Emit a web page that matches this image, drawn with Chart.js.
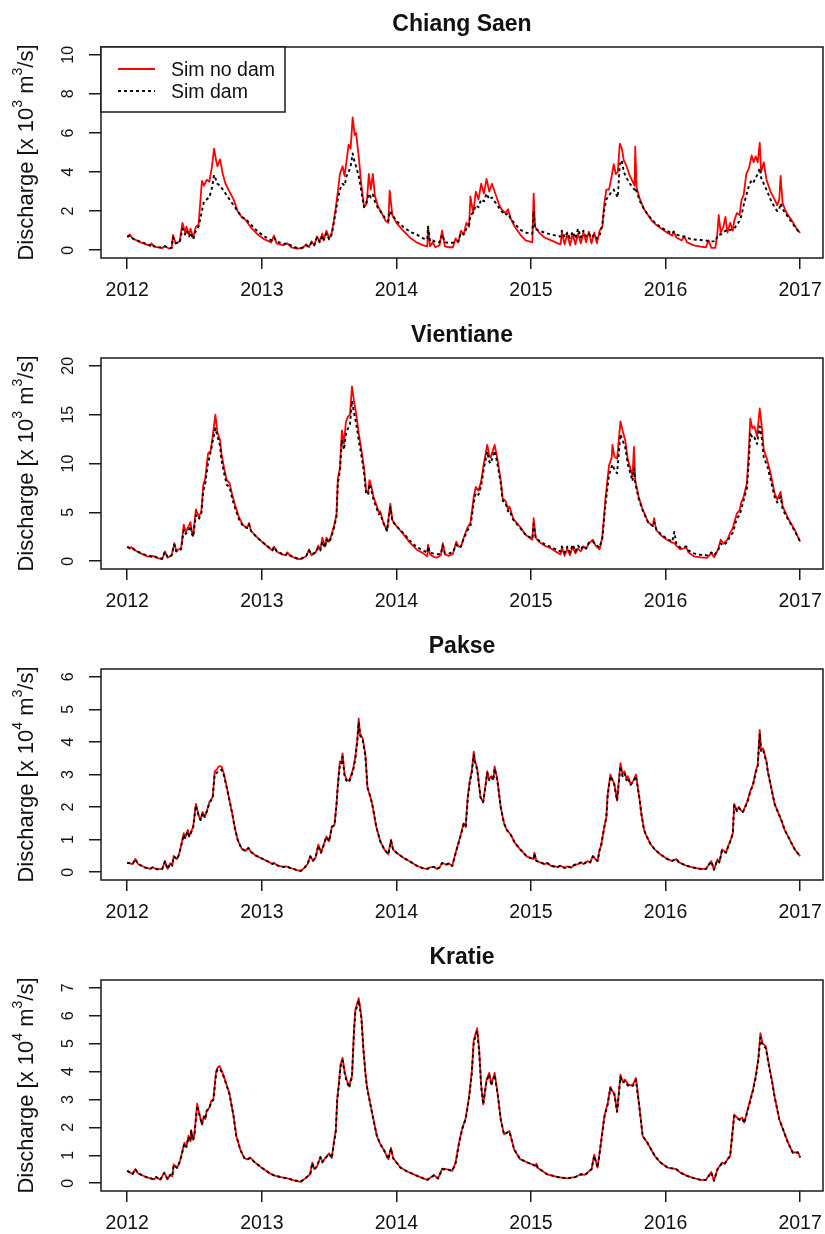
<!DOCTYPE html>
<html>
<head>
<meta charset="utf-8">
<script src="https://cdn.jsdelivr.net/npm/chart.js@4.4.1/dist/chart.umd.min.js"></script>
<style>
  html, body { margin: 0; padding: 0; background: #fff; overflow: hidden; }
  #wrap { position: relative; width: 825px; height: 1234px; }
  #wrap canvas { position: absolute; left: 0; }
</style>
</head>
<body>
<div id="wrap">
  <canvas id="p0" width="825" height="311" style="top:0px"></canvas>
  <canvas id="p1" width="825" height="311" style="top:311px"></canvas>
  <canvas id="p2" width="825" height="311" style="top:622px"></canvas>
  <canvas id="p3" width="825" height="311" style="top:933px"></canvas>
</div>
<script>
// ---- station names, axis ticks ----
const stationNames = ['Chiang Saen', 'Vientiane', 'Pakse', 'Kratie'];
const seriesNames = ['Sim no dam', 'Sim dam'];
const yearTicks = [2012, 2013, 2014, 2015, 2016, 2017];
const csTicks = [0, 2, 4, 6, 8, 10];
const vtTicks = [0, 5, 10, 15, 20];
const pkTicks = [0, 1, 2, 3, 4, 5, 6];
const krTicks = [0, 1, 2, 3, 4, 5, 6, 7];
const unitExponents = ['3', '3', '4', '4'];

// ---- Chiang Saen discharge (x 10^3 m3/s) ----
const csTime = [
  2012.00,2012.02,2012.04,2012.10,2012.17,2012.18,2012.20,2012.26,2012.28,2012.31,
  2012.33,2012.34,2012.36,2012.39,2012.41,2012.43,2012.44,2012.46,2012.47,2012.49,
  2012.51,2012.53,2012.555,2012.57,2012.59,2012.61,2012.63,2012.645,2012.66,2012.67,
  2012.69,2012.71,2012.73,2012.76,2012.79,2012.82,2012.85,2012.88,2012.92,2012.97,
  2013.02,2013.07,2013.09,2013.11,2013.16,2013.19,2013.22,2013.26,2013.30,2013.33,
  2013.35,2013.37,2013.39,2013.41,2013.43,2013.45,2013.46,2013.48,2013.50,2013.52,
  2013.535,2013.55,2013.565,2013.58,2013.60,2013.615,2013.63,2013.645,2013.66,2013.675,
  2013.69,2013.70,2013.72,2013.74,2013.76,2013.78,2013.795,2013.81,2013.825,2013.84,
  2013.86,2013.89,2013.92,2013.94,2013.95,2013.97,2014.00,2014.05,2014.10,2014.15,
  2014.20,2014.23,2014.235,2014.25,2014.27,2014.29,2014.32,2014.34,2014.36,2014.39,
  2014.42,2014.44,2014.46,2014.48,2014.50,2014.52,2014.54,2014.55,2014.57,2014.59,
  2014.61,2014.63,2014.65,2014.67,2014.69,2014.71,2014.73,2014.76,2014.78,2014.81,
  2014.83,2014.85,2014.88,2014.92,2014.96,2015.01,2015.02,2015.03,2015.06,2015.10,
  2015.15,2015.20,2015.22,2015.23,2015.25,2015.27,2015.29,2015.31,2015.33,2015.35,
  2015.37,2015.39,2015.41,2015.43,2015.45,2015.47,2015.49,2015.51,2015.53,2015.545,
  2015.56,2015.58,2015.60,2015.615,2015.63,2015.645,2015.66,2015.675,2015.69,2015.71,
  2015.735,2015.77,2015.775,2015.785,2015.81,2015.84,2015.87,2015.90,2015.93,2015.97,
  2016.01,2016.05,2016.06,2016.08,2016.12,2016.14,2016.16,2016.21,2016.26,2016.30,
  2016.32,2016.34,2016.37,2016.385,2016.395,2016.41,2016.43,2016.445,2016.46,2016.48,
  2016.50,2016.51,2016.53,2016.55,2016.565,2016.58,2016.60,2016.62,2016.64,2016.655,
  2016.67,2016.685,2016.70,2016.71,2016.73,2016.75,2016.78,2016.81,2016.83,2016.845,
  2016.855,2016.87,2016.90,2016.94,2016.97,2017.00
];
const csNoDam = [
  0.70,0.80,0.60,0.40,0.22,0.35,0.18,0.10,0.22,0.08,
  0.10,0.78,0.35,0.45,1.40,0.90,1.20,0.80,1.10,0.65,
  1.20,1.30,3.55,3.30,3.60,3.50,4.30,5.20,4.60,4.30,
  4.65,3.90,3.40,3.00,2.60,2.00,1.70,1.55,1.15,0.80,
  0.55,0.40,0.75,0.35,0.25,0.35,0.15,0.08,0.10,0.30,
  0.15,0.45,0.25,0.70,0.45,0.85,0.50,1.00,0.60,0.90,
  1.50,2.20,3.00,3.90,4.30,3.80,4.60,5.40,5.20,6.80,
  5.90,6.00,4.80,3.30,2.20,2.40,3.90,3.10,3.90,2.80,
  2.30,1.90,1.50,1.40,3.05,1.80,1.40,1.00,0.65,0.40,
  0.25,0.20,1.20,0.20,0.40,0.15,0.25,1.00,0.20,0.15,
  0.15,0.60,0.40,1.00,0.80,1.40,1.20,2.75,1.90,3.00,
  2.60,3.40,2.90,3.65,3.00,3.40,3.00,2.40,2.10,1.90,
  2.10,1.60,1.20,0.80,0.50,0.40,2.90,1.20,0.90,0.65,
  0.50,0.35,0.30,0.90,0.30,0.85,0.25,0.80,0.30,0.85,
  0.35,0.90,0.40,0.95,0.35,0.90,0.35,1.00,1.20,2.40,
  3.10,3.10,3.80,4.40,3.90,4.00,5.45,5.20,4.60,4.30,
  3.80,3.30,5.30,3.20,2.60,2.10,1.80,1.50,1.30,1.10,
  0.90,0.75,0.95,0.65,0.50,0.70,0.40,0.25,0.18,0.15,
  0.50,0.12,0.12,0.85,1.80,0.90,1.20,1.70,0.90,1.40,
  1.00,1.50,1.90,1.80,2.60,2.80,3.90,4.20,4.85,4.50,
  4.80,4.50,5.50,4.00,4.50,3.60,3.00,2.60,2.30,2.60,
  3.80,2.40,1.90,1.50,1.15,0.88
];
const csDam = [
  0.68,0.75,0.60,0.42,0.25,0.33,0.20,0.12,0.20,0.10,
  0.12,0.65,0.35,0.40,1.10,0.80,1.00,0.70,0.90,0.55,
  1.00,1.20,2.00,2.50,2.60,2.70,3.20,3.85,3.60,3.40,
  3.30,3.10,2.90,2.60,2.30,2.00,1.70,1.60,1.30,0.95,
  0.70,0.50,0.65,0.45,0.32,0.35,0.22,0.12,0.12,0.25,
  0.18,0.40,0.25,0.65,0.40,0.75,0.55,0.85,0.55,0.80,
  1.40,2.00,2.60,3.10,3.40,3.30,3.80,4.00,4.30,4.95,
  4.50,4.30,3.80,3.00,2.20,2.50,2.90,2.70,2.85,2.50,
  2.20,1.90,1.60,1.50,2.00,1.80,1.50,1.20,0.95,0.80,
  0.60,0.55,1.20,0.45,0.50,0.42,0.40,0.80,0.40,0.38,
  0.38,0.45,0.45,0.90,0.80,1.10,1.30,1.80,1.90,2.30,
  2.20,2.60,2.50,2.90,2.60,2.70,2.50,2.20,2.00,1.80,
  1.90,1.60,1.35,1.05,0.90,0.85,2.00,1.10,1.00,0.90,
  0.80,0.72,0.70,1.00,0.65,0.90,0.62,0.95,0.60,1.10,
  0.65,1.00,0.70,0.85,0.65,0.80,0.60,0.75,1.30,2.10,
  2.60,2.80,3.00,3.10,2.90,2.70,4.40,4.60,4.00,3.70,
  3.40,3.10,3.20,3.00,2.50,2.10,1.80,1.55,1.35,1.15,
  1.00,0.85,0.95,0.80,0.70,0.70,0.62,0.55,0.52,0.50,
  0.45,0.45,0.45,0.70,0.80,0.80,0.90,1.00,0.95,1.05,
  1.05,1.10,1.30,1.50,1.80,2.30,2.80,3.30,3.60,3.50,
  3.70,3.90,4.20,3.70,3.40,3.10,2.60,2.20,2.00,2.10,
  2.40,2.10,1.80,1.40,1.10,0.88
];

// ---- Vientiane discharge (x 10^3 m3/s) ----
const vtTime = [
  2012.00,2012.02,2012.03,2012.06,2012.10,2012.15,2012.18,2012.19,2012.22,2012.26,
  2012.28,2012.30,2012.33,2012.35,2012.365,2012.38,2012.40,2012.42,2012.435,2012.45,
  2012.47,2012.48,2012.49,2012.51,2012.53,2012.55,2012.565,2012.58,2012.60,2012.62,
  2012.635,2012.655,2012.67,2012.69,2012.70,2012.72,2012.74,2012.76,2012.78,2012.80,
  2012.83,2012.86,2012.89,2012.905,2012.92,2012.96,2013.00,2013.05,2013.08,2013.09,
  2013.11,2013.15,2013.18,2013.19,2013.21,2013.26,2013.29,2013.33,2013.35,2013.37,
  2013.40,2013.42,2013.435,2013.45,2013.47,2013.48,2013.50,2013.52,2013.54,2013.555,
  2013.565,2013.58,2013.595,2013.61,2013.625,2013.64,2013.655,2013.67,2013.685,2013.70,
  2013.72,2013.74,2013.76,2013.775,2013.79,2013.80,2013.815,2013.83,2013.85,2013.87,
  2013.88,2013.90,2013.93,2013.955,2013.97,2014.00,2014.05,2014.10,2014.15,2014.20,
  2014.23,2014.235,2014.25,2014.27,2014.30,2014.33,2014.345,2014.36,2014.39,2014.42,
  2014.445,2014.46,2014.48,2014.50,2014.53,2014.55,2014.575,2014.59,2014.61,2014.63,
  2014.65,2014.675,2014.69,2014.70,2014.73,2014.75,2014.775,2014.79,2014.81,2014.83,
  2014.84,2014.87,2014.92,2014.96,2015.01,2015.02,2015.035,2015.06,2015.10,2015.15,
  2015.20,2015.22,2015.23,2015.25,2015.27,2015.29,2015.31,2015.33,2015.35,2015.37,
  2015.39,2015.41,2015.43,2015.46,2015.48,2015.51,2015.53,2015.555,2015.58,2015.60,
  2015.605,2015.62,2015.64,2015.665,2015.68,2015.70,2015.72,2015.755,2015.765,2015.775,
  2015.80,2015.83,2015.87,2015.905,2015.915,2015.93,2015.97,2016.01,2016.05,2016.065,
  2016.08,2016.11,2016.155,2016.17,2016.21,2016.26,2016.31,2016.34,2016.36,2016.39,
  2016.41,2016.43,2016.46,2016.48,2016.50,2016.51,2016.53,2016.55,2016.56,2016.58,
  2016.605,2016.62,2016.63,2016.645,2016.66,2016.68,2016.70,2016.715,2016.73,2016.755,
  2016.78,2016.81,2016.83,2016.855,2016.87,2016.91,2016.96,2017.00
];
const vtNoDam = [
  1.50,1.30,1.45,1.10,0.80,0.50,0.45,0.55,0.35,0.20,
  1.00,0.35,0.60,1.85,1.00,1.20,1.30,3.75,3.00,3.40,
  4.00,3.00,2.60,5.30,4.60,5.00,7.80,8.50,11.00,11.30,
  12.80,15.00,13.20,12.40,11.00,9.50,8.30,8.00,6.80,5.80,
  4.50,3.70,3.40,3.90,3.10,2.50,2.00,1.40,1.10,1.50,
  1.00,0.70,0.60,0.90,0.55,0.25,0.20,0.50,1.20,0.60,
  0.90,1.60,1.20,2.40,1.50,2.40,2.00,2.80,3.80,4.80,
  8.50,9.50,13.40,12.00,14.30,14.80,15.00,17.90,16.40,15.20,
  13.10,11.40,9.50,7.20,7.00,8.30,7.60,6.60,5.80,5.00,
  5.10,4.10,3.10,5.90,4.20,3.60,2.80,1.90,1.20,0.80,
  0.50,1.70,0.70,0.50,0.35,0.60,1.85,0.70,0.55,0.75,
  2.00,1.50,1.50,2.40,3.50,3.90,6.60,7.60,7.20,8.20,
  10.00,11.90,10.80,10.60,11.90,10.50,8.30,6.40,6.20,5.30,
  5.60,4.30,3.50,2.70,2.20,4.40,2.40,2.00,1.60,1.30,
  0.85,0.70,1.40,0.55,1.30,0.60,1.50,0.80,1.30,1.00,
  1.50,1.30,1.80,2.20,1.60,1.20,2.50,6.60,9.80,10.60,
  11.90,10.70,10.50,14.30,13.40,12.40,10.40,8.70,11.70,8.30,
  6.60,5.30,4.00,3.60,4.40,3.20,2.60,2.20,1.90,1.85,
  1.60,1.20,1.40,0.90,0.50,0.40,0.35,0.85,0.40,1.20,
  2.20,1.80,2.20,2.90,3.40,3.90,4.90,5.20,5.90,6.60,
  8.00,11.70,14.60,13.60,13.80,12.80,15.65,13.80,11.40,10.40,
  9.00,7.00,6.30,7.10,5.60,4.40,3.20,2.00
];
const vtDam = [
  1.45,1.35,1.40,1.10,0.85,0.55,0.50,0.55,0.40,0.25,
  0.95,0.40,0.60,1.70,1.00,1.10,1.20,3.20,2.80,3.00,
  3.60,2.80,2.50,4.70,4.30,4.80,7.20,8.00,10.00,11.20,
  12.30,13.60,12.80,11.80,10.40,9.00,7.80,7.60,6.40,5.50,
  4.30,3.60,3.40,3.80,3.10,2.50,2.00,1.45,1.15,1.45,
  1.05,0.75,0.65,0.85,0.60,0.30,0.25,0.55,1.10,0.70,
  0.90,1.40,1.10,2.00,1.40,2.20,1.90,2.60,3.60,4.60,
  8.00,9.20,12.40,11.40,13.00,13.60,14.00,16.40,15.20,14.20,
  12.40,10.80,9.00,6.90,6.80,7.90,7.20,6.30,5.50,4.80,
  4.90,4.00,3.10,5.50,4.10,3.60,2.90,2.10,1.45,1.10,
  0.85,1.50,0.90,0.80,0.70,0.75,1.60,0.85,0.80,0.90,
  1.70,1.40,1.50,2.30,3.20,3.50,6.00,7.00,6.80,7.70,
  9.50,11.20,10.20,10.00,11.30,10.00,8.00,6.20,6.00,5.10,
  5.20,4.20,3.40,2.70,2.30,3.80,2.40,2.10,1.75,1.45,
  1.10,1.00,1.50,0.90,1.50,0.90,1.70,1.00,1.60,1.20,
  1.60,1.30,1.90,2.00,1.70,1.40,2.30,6.00,8.80,9.70,
  9.90,9.40,9.00,13.00,12.40,11.70,9.90,8.20,9.50,8.00,
  6.40,5.20,4.00,3.60,4.00,3.30,2.70,2.30,2.00,3.00,
  1.80,1.40,1.50,1.10,0.80,0.65,0.60,0.90,0.60,1.10,
  1.80,1.60,2.00,2.60,2.90,3.40,4.40,4.70,5.20,6.20,
  7.50,10.50,13.20,12.60,12.70,12.00,13.80,12.60,10.60,9.80,
  8.40,6.60,6.00,6.60,5.30,4.30,3.10,2.00
];

// ---- Pakse discharge (x 10^4 m3/s) ----
const pkTime = [
  2012.00,2012.04,2012.06,2012.08,2012.13,2012.17,2012.19,2012.22,2012.26,2012.28,
  2012.30,2012.32,2012.335,2012.345,2012.37,2012.385,2012.40,2012.42,2012.43,2012.45,
  2012.46,2012.475,2012.49,2012.51,2012.53,2012.545,2012.56,2012.575,2012.59,2012.61,
  2012.635,2012.65,2012.665,2012.68,2012.70,2012.72,2012.74,2012.76,2012.78,2012.80,
  2012.82,2012.85,2012.88,2012.90,2012.92,2012.96,2013.00,2013.04,2013.08,2013.09,
  2013.12,2013.16,2013.18,2013.22,2013.26,2013.29,2013.32,2013.34,2013.36,2013.38,
  2013.40,2013.42,2013.44,2013.46,2013.48,2013.50,2013.52,2013.54,2013.555,2013.565,
  2013.58,2013.59,2013.60,2013.615,2013.63,2013.65,2013.665,2013.68,2013.695,2013.71,
  2013.72,2013.73,2013.75,2013.77,2013.785,2013.80,2013.82,2013.85,2013.88,2013.91,
  2013.94,2013.96,2013.975,2014.00,2014.05,2014.10,2014.155,2014.20,2014.23,2014.25,
  2014.28,2014.30,2014.32,2014.34,2014.37,2014.39,2014.415,2014.44,2014.475,2014.50,
  2014.515,2014.53,2014.545,2014.56,2014.575,2014.585,2014.60,2014.625,2014.645,2014.66,
  2014.675,2014.69,2014.705,2014.72,2014.73,2014.75,2014.775,2014.80,2014.82,2014.85,
  2014.88,2014.92,2014.97,2015.02,2015.025,2015.04,2015.10,2015.12,2015.15,2015.20,
  2015.22,2015.25,2015.27,2015.30,2015.32,2015.35,2015.37,2015.39,2015.42,2015.44,
  2015.46,2015.48,2015.495,2015.51,2015.52,2015.545,2015.56,2015.57,2015.59,2015.605,
  2015.62,2015.64,2015.655,2015.665,2015.68,2015.695,2015.71,2015.72,2015.74,2015.76,
  2015.78,2015.805,2015.82,2015.84,2015.86,2015.89,2015.92,2015.96,2016.015,2016.05,
  2016.08,2016.10,2016.16,2016.20,2016.26,2016.30,2016.34,2016.36,2016.385,2016.40,
  2016.42,2016.45,2016.465,2016.48,2016.50,2016.51,2016.53,2016.545,2016.56,2016.575,
  2016.59,2016.61,2016.63,2016.65,2016.67,2016.685,2016.70,2016.71,2016.725,2016.735,
  2016.75,2016.76,2016.78,2016.795,2016.81,2016.83,2016.86,2016.885,2016.91,2016.96,2017.00
];
const pkNoDam = [
  0.29,0.25,0.41,0.25,0.15,0.10,0.15,0.09,0.10,0.34,
  0.10,0.28,0.20,0.50,0.40,0.55,0.81,1.20,1.05,1.30,
  1.10,1.25,1.40,2.10,1.75,1.60,1.85,1.70,1.85,2.15,
  2.30,3.10,3.15,3.25,3.25,3.00,2.60,2.20,1.80,1.35,
  1.00,0.72,0.65,0.75,0.62,0.50,0.42,0.34,0.25,0.28,
  0.20,0.16,0.18,0.12,0.06,0.03,0.15,0.25,0.50,0.35,
  0.45,0.85,0.60,0.85,1.10,0.95,1.40,1.45,2.10,2.70,
  3.40,3.35,3.65,3.00,2.85,2.80,3.00,3.20,3.55,4.10,
  4.72,4.25,4.10,3.60,2.60,2.40,2.10,1.40,0.95,0.70,
  0.55,1.00,0.70,0.60,0.45,0.33,0.19,0.12,0.10,0.15,
  0.16,0.10,0.14,0.29,0.23,0.27,0.19,0.60,1.10,1.50,
  1.40,2.30,2.80,3.10,3.70,3.40,3.20,2.30,2.15,2.60,
  3.10,2.85,2.95,2.85,3.25,2.85,2.00,1.50,1.30,1.15,
  0.90,0.70,0.48,0.40,0.60,0.35,0.25,0.28,0.19,0.16,
  0.20,0.13,0.18,0.14,0.22,0.25,0.30,0.25,0.34,0.30,
  0.50,0.40,0.34,0.70,0.80,1.40,1.70,2.40,3.00,2.85,
  2.70,2.20,2.90,3.35,3.00,3.10,2.85,2.95,2.70,2.80,
  3.00,2.30,1.80,1.30,1.10,0.85,0.70,0.55,0.40,0.35,
  0.40,0.30,0.19,0.15,0.10,0.10,0.34,0.07,0.40,0.30,
  0.70,0.60,0.80,0.95,1.20,2.10,1.90,2.00,1.90,1.85,
  2.00,2.20,2.50,2.70,3.10,3.30,4.37,3.75,3.80,3.65,
  3.40,3.10,2.70,2.40,2.10,1.90,1.60,1.30,1.10,0.70,0.49
];
const pkDam = [
  0.29,0.25,0.40,0.25,0.15,0.10,0.15,0.09,0.10,0.33,
  0.10,0.28,0.20,0.48,0.40,0.55,0.80,1.15,1.05,1.25,
  1.10,1.22,1.38,2.05,1.75,1.60,1.82,1.70,1.85,2.12,
  2.28,3.02,3.05,3.12,3.15,2.95,2.58,2.20,1.80,1.35,
  1.00,0.72,0.65,0.74,0.62,0.50,0.42,0.34,0.25,0.28,
  0.20,0.16,0.18,0.12,0.07,0.04,0.15,0.25,0.48,0.35,
  0.45,0.82,0.60,0.83,1.08,0.95,1.38,1.45,2.05,2.65,
  3.30,3.30,3.55,2.95,2.80,2.78,2.95,3.15,3.48,4.05,
  4.60,4.20,4.05,3.55,2.60,2.40,2.10,1.40,0.95,0.70,
  0.55,0.96,0.70,0.60,0.45,0.33,0.19,0.12,0.10,0.15,
  0.16,0.10,0.14,0.28,0.23,0.27,0.19,0.58,1.08,1.48,
  1.40,2.25,2.75,3.05,3.60,3.35,3.15,2.30,2.15,2.58,
  3.05,2.82,2.92,2.82,3.18,2.82,2.00,1.50,1.30,1.15,
  0.90,0.70,0.48,0.40,0.58,0.35,0.25,0.28,0.19,0.16,
  0.20,0.13,0.18,0.14,0.22,0.25,0.30,0.25,0.33,0.30,
  0.48,0.40,0.34,0.68,0.78,1.38,1.68,2.35,2.95,2.82,
  2.68,2.20,2.85,3.25,2.95,3.05,2.82,2.90,2.68,2.78,
  2.95,2.30,1.80,1.30,1.10,0.85,0.70,0.55,0.40,0.35,
  0.40,0.30,0.19,0.15,0.10,0.10,0.33,0.08,0.38,0.30,
  0.68,0.60,0.78,0.93,1.18,2.05,1.88,1.98,1.90,1.85,
  1.98,2.18,2.48,2.68,3.05,3.25,4.25,3.70,3.75,3.60,
  3.38,3.08,2.70,2.40,2.10,1.90,1.60,1.30,1.10,0.70,0.49
];

// ---- Kratie discharge (x 10^4 m3/s) ----
const krTime = [
  2012.00,2012.04,2012.06,2012.08,2012.14,2012.20,2012.215,2012.245,2012.275,2012.30,
  2012.32,2012.335,2012.345,2012.37,2012.385,2012.40,2012.425,2012.44,2012.455,2012.47,
  2012.475,2012.49,2012.50,2012.52,2012.535,2012.555,2012.57,2012.58,2012.59,2012.61,
  2012.625,2012.64,2012.66,2012.67,2012.685,2012.70,2012.72,2012.74,2012.76,2012.775,
  2012.79,2012.81,2012.84,2012.87,2012.89,2012.915,2012.94,2013.00,2013.05,2013.09,
  2013.14,2013.19,2013.24,2013.29,2013.33,2013.36,2013.375,2013.39,2013.41,2013.435,
  2013.45,2013.47,2013.50,2013.52,2013.535,2013.55,2013.56,2013.575,2013.585,2013.60,
  2013.615,2013.63,2013.65,2013.66,2013.67,2013.685,2013.695,2013.72,2013.74,2013.755,
  2013.77,2013.78,2013.79,2013.82,2013.855,2013.88,2013.905,2013.94,2013.96,2013.975,
  2014.03,2014.08,2014.155,2014.20,2014.23,2014.28,2014.31,2014.34,2014.37,2014.39,
  2014.415,2014.44,2014.465,2014.49,2014.515,2014.54,2014.56,2014.575,2014.60,2014.615,
  2014.63,2014.645,2014.67,2014.69,2014.705,2014.73,2014.755,2014.775,2014.80,2014.84,
  2014.875,2014.92,2014.975,2015.035,2015.04,2015.05,2015.12,2015.20,2015.27,2015.30,
  2015.33,2015.37,2015.40,2015.42,2015.45,2015.47,2015.495,2015.52,2015.545,2015.57,
  2015.59,2015.605,2015.62,2015.64,2015.665,2015.68,2015.70,2015.72,2015.74,2015.76,
  2015.78,2015.805,2015.83,2015.865,2015.92,2015.96,2016.015,2016.08,2016.11,2016.16,
  2016.21,2016.26,2016.30,2016.34,2016.36,2016.385,2016.42,2016.44,2016.46,2016.48,
  2016.51,2016.53,2016.55,2016.57,2016.585,2016.61,2016.63,2016.65,2016.67,2016.69,
  2016.705,2016.72,2016.745,2016.77,2016.79,2016.81,2016.845,2016.875,2016.91,2016.945,
  2016.97,2016.985,2017.00
];
const krNoDam = [
  0.44,0.33,0.51,0.35,0.22,0.14,0.22,0.12,0.38,0.14,
  0.30,0.25,0.67,0.55,0.70,0.95,1.45,1.30,1.70,1.50,
  1.90,1.55,1.80,2.85,2.50,2.10,2.40,2.30,2.60,2.70,
  2.95,3.00,4.00,4.13,4.20,4.05,3.80,3.50,3.20,2.80,
  2.40,1.70,1.20,0.90,0.85,0.92,0.78,0.55,0.38,0.28,
  0.22,0.17,0.10,0.05,0.20,0.33,0.74,0.50,0.60,0.95,
  0.75,0.90,1.07,0.90,1.45,1.90,3.00,3.70,4.25,4.49,
  4.00,3.70,3.47,3.70,3.83,5.50,6.21,6.63,5.97,4.80,
  3.95,3.50,3.24,2.50,1.69,1.40,1.21,0.86,1.27,0.90,
  0.56,0.42,0.26,0.17,0.12,0.29,0.17,0.52,0.50,0.48,
  0.44,0.74,1.45,1.98,2.33,3.10,3.99,5.14,5.55,4.79,
  3.50,2.82,3.71,3.95,3.54,3.95,3.12,2.29,1.75,1.87,
  1.21,0.86,0.74,0.62,0.70,0.55,0.32,0.22,0.17,0.20,
  0.22,0.32,0.30,0.38,0.50,1.02,0.56,1.45,2.40,2.86,
  3.45,3.30,3.21,2.56,3.89,3.65,3.71,3.55,3.50,3.55,
  3.77,2.76,1.69,1.45,0.98,0.75,0.56,0.50,0.38,0.26,
  0.18,0.12,0.12,0.40,0.08,0.50,0.74,0.70,0.86,0.98,
  2.46,2.35,2.29,2.35,2.17,2.64,3.00,3.36,3.83,4.50,
  5.38,5.02,4.90,4.19,3.70,3.12,2.29,1.90,1.45,1.10,
  1.10,1.10,0.92
];
const krDam = [
  0.44,0.33,0.50,0.35,0.22,0.14,0.22,0.12,0.37,0.14,
  0.30,0.25,0.65,0.55,0.70,0.93,1.42,1.30,1.66,1.50,
  1.86,1.55,1.78,2.78,2.48,2.10,2.38,2.30,2.58,2.68,
  2.92,2.98,3.92,4.06,4.10,4.00,3.78,3.48,3.18,2.80,
  2.40,1.70,1.20,0.90,0.85,0.90,0.78,0.55,0.38,0.28,
  0.22,0.17,0.10,0.06,0.20,0.33,0.72,0.50,0.60,0.93,
  0.75,0.88,1.05,0.90,1.42,1.88,2.95,3.62,4.18,4.40,
  3.95,3.65,3.42,3.65,3.78,5.42,6.12,6.55,5.90,4.78,
  3.92,3.48,3.22,2.50,1.69,1.40,1.21,0.86,1.24,0.90,
  0.56,0.42,0.26,0.17,0.12,0.28,0.17,0.50,0.50,0.48,
  0.44,0.72,1.42,1.95,2.30,3.05,3.92,5.05,5.45,4.72,
  3.48,2.82,3.65,3.90,3.50,3.88,3.10,2.29,1.75,1.85,
  1.21,0.86,0.74,0.62,0.68,0.55,0.32,0.22,0.17,0.20,
  0.22,0.32,0.30,0.37,0.50,0.98,0.56,1.42,2.35,2.82,
  3.40,3.25,3.18,2.56,3.80,3.60,3.65,3.50,3.46,3.50,
  3.70,2.74,1.69,1.45,0.98,0.75,0.56,0.50,0.38,0.26,
  0.18,0.12,0.12,0.38,0.09,0.48,0.72,0.70,0.85,0.97,
  2.40,2.32,2.27,2.32,2.15,2.60,2.96,3.32,3.78,4.42,
  5.22,4.95,4.84,4.15,3.68,3.10,2.29,1.90,1.45,1.10,
  1.10,1.10,0.92
];

// ---- drawing ----
const FONT = '"Liberation Sans", Arial, Helvetica, sans-serif';
const INK = '#111111';

function toPoints(time, values) {
  return time.map((t, i) => ({ x: t, y: values[i] }));
}

// Box, rotated y tick labels, panel title, y-axis title and (first panel) legend
const panelDecor = {
  id: 'panelDecor',
  afterDraw(chart, args, opts) {
    const { ctx, chartArea: a } = chart;
    const y = chart.scales.y;
    ctx.save();

    ctx.strokeStyle = '#1a1a1a';
    ctx.lineWidth = 1.5;
    ctx.strokeRect(a.left, a.top, a.right - a.left, a.bottom - a.top);

    // y tick labels, parallel to the axis
    ctx.fillStyle = INK;
    ctx.font = '16px ' + FONT;
    ctx.textAlign = 'center';
    ctx.textBaseline = 'alphabetic';
    y.ticks.forEach(t => {
      const py = y.getPixelForValue(t.value);
      ctx.save();
      ctx.translate(73, py);
      ctx.rotate(-Math.PI / 2);
      ctx.fillText(String(t.value), 0, 0);
      ctx.restore();
    });

    // panel title
    ctx.font = 'bold 23px ' + FONT;
    ctx.textAlign = 'center';
    ctx.fillText(opts.title, (a.left + a.right) / 2, 31);

    // y-axis title with superscripts
    const parts = [
      { s: 'Discharge [x 10', size: 22, rise: 0 },
      { s: opts.exp, size: 14, rise: 11 },
      { s: ' m', size: 22, rise: 0 },
      { s: '3', size: 14, rise: 11 },
      { s: '/s]', size: 22, rise: 0 }
    ];
    let total = 0;
    parts.forEach(p => { ctx.font = p.size + 'px ' + FONT; p.w = ctx.measureText(p.s).width; total += p.w; });
    ctx.save();
    ctx.translate(33, (a.top + a.bottom) / 2);
    ctx.rotate(-Math.PI / 2);
    ctx.textAlign = 'left';
    let cx = -total / 2;
    parts.forEach(p => {
      ctx.font = p.size + 'px ' + FONT;
      ctx.fillText(p.s, cx, -p.rise);
      cx += p.w;
    });
    ctx.restore();

    if (opts.legend) {
      const x0 = a.left, y0 = a.top, w = 184, h = 65;
      ctx.fillStyle = '#ffffff';
      ctx.fillRect(x0, y0, w, h);
      ctx.strokeStyle = '#1a1a1a';
      ctx.lineWidth = 1.5;
      ctx.strokeRect(x0, y0, w, h);
      chart.data.datasets.forEach((ds, i) => {
        const ly = y0 + 22 + i * 22;
        ctx.strokeStyle = ds.borderColor;
        ctx.lineWidth = ds.borderWidth;
        ctx.setLineDash(ds.borderDash || []);
        ctx.beginPath();
        ctx.moveTo(x0 + 17, ly);
        ctx.lineTo(x0 + 54, ly);
        ctx.stroke();
        ctx.setLineDash([]);
        ctx.fillStyle = INK;
        ctx.font = '19.5px ' + FONT;
        ctx.textAlign = 'left';
        ctx.fillText(ds.label, x0 + 70, ly + 7);
      });
    }
    ctx.restore();
  }
};

const panels = [
  { id: 'p0', time: csTime, noDam: csNoDam, dam: csDam, ticks: csTicks, legend: true },
  { id: 'p1', time: vtTime, noDam: vtNoDam, dam: vtDam, ticks: vtTicks, legend: false },
  { id: 'p2', time: pkTime, noDam: pkNoDam, dam: pkDam, ticks: pkTicks, legend: false },
  { id: 'p3', time: krTime, noDam: krNoDam, dam: krDam, ticks: krTicks, legend: false }
];

panels.forEach((p, k) => {
  const top = p.ticks[p.ticks.length - 1];
  new Chart(document.getElementById(p.id), {
    type: 'line',
    data: {
      datasets: [
        {
          label: seriesNames[0],
          data: toPoints(p.time, p.noDam),
          borderColor: '#ff0000',
          borderWidth: 1.8,
          order: 2
        },
        {
          label: seriesNames[1],
          data: toPoints(p.time, p.dam),
          borderColor: '#000000',
          borderWidth: 1.9,
          borderDash: [3, 3],
          order: 1
        }
      ]
    },
    options: {
      responsive: false,
      devicePixelRatio: 1,
      animation: false,
      events: [],
      layout: { autoPadding: false, padding: { top: 47, right: 2, bottom: 0, left: 0 } },
      elements: {
        point: { radius: 0 },
        line: { tension: 0, borderJoinStyle: 'round', fill: false }
      },
      plugins: {
        legend: { display: false },
        tooltip: { enabled: false },
        title: { display: false },
        panelDecor: { title: stationNames[k], exp: unitExponents[k], legend: p.legend }
      },
      scales: {
        x: {
          type: 'linear',
          position: 'bottom',
          min: 2011.805,
          max: 2017.17,
          afterBuildTicks: s => { s.ticks = yearTicks.map(v => ({ value: v })); },
          // fixed axis height; the year labels may overhang the box edges as in base graphics
          afterFit: s => { s.height = 53; s.paddingLeft = 0; s.paddingRight = 0; },
          border: { display: false },
          grid: { drawOnChartArea: false, drawTicks: true, tickLength: 11, color: '#1a1a1a', lineWidth: 1.5 },
          ticks: {
            autoSkip: false, maxRotation: 0, padding: 10,
            color: INK, font: { family: FONT, size: 19.5 },
            callback: v => String(v)
          }
        },
        y: {
          type: 'linear',
          position: 'left',
          min: -0.04 * top,
          max: 1.04 * top,
          afterBuildTicks: s => { s.ticks = p.ticks.map(v => ({ value: v })); },
          afterFit: s => { s.width = 101; s.paddingTop = 0; s.paddingBottom = 0; },
          border: { display: false },
          grid: { drawOnChartArea: false, drawTicks: true, tickLength: 12, color: '#1a1a1a', lineWidth: 1.5 },
          ticks: { display: false }
        }
      }
    },
    plugins: [panelDecor]
  });
});
</script>
</body>
</html>
